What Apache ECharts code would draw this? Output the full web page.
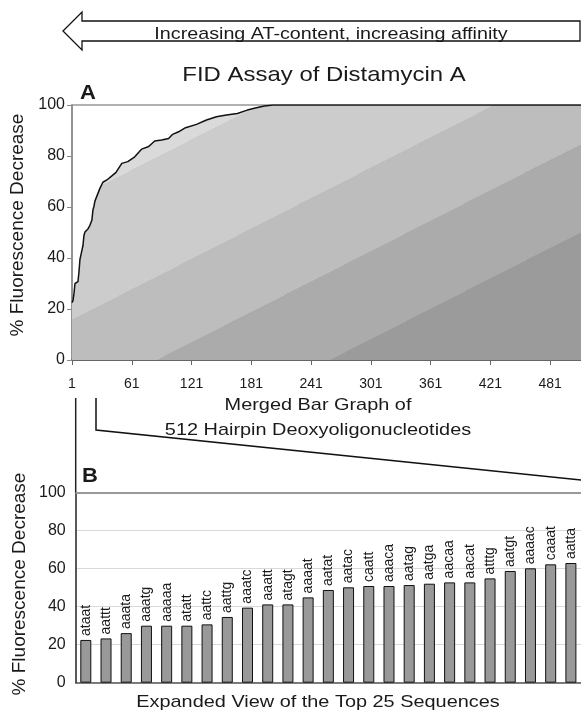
<!DOCTYPE html>
<html>
<head>
<meta charset="utf-8">
<script src="https://cdn.jsdelivr.net/npm/echarts@6/dist/echarts.min.js"></script>
<style>
  html, body { margin: 0; padding: 0; background: #fff; }
  #chart { width: 581px; height: 713px; }
</style>
</head>
<body>
<div id="chart"></div>
<script>
// top 25 sequences (panel B), same values start the merged curve in panel A
var top25Labels = ['ataat', 'aattt', 'aaata', 'aaatg', 'aaaaa', 'atatt', 'aattc', 'aattg', 'aaatc', 'aaatt',
    'atagt', 'aaaat', 'aatat', 'aatac', 'caatt', 'aaaca', 'aatag', 'aatga', 'aacaa', 'aacat',
    'atttg', 'aatgt', 'aaaac', 'caaat', 'aatta'];
var top25Values = [22.5, 23.3, 26.1, 30, 30, 30, 30.7, 34.6, 39.5, 41.2,
    41.2, 44.9, 48.8, 50.2, 50.9, 50.9, 51.4, 52.1, 52.8, 52.8,
    54.9, 58.8, 60.2, 62.3, 63.0];

// rest of the merged curve (rank -> % decrease)
var curveRank = [29, 32, 36, 41, 45, 51, 57, 64, 71, 78, 84, 91, 98, 102, 108, 115, 126, 136, 146, 156, 167, 177, 184, 194, 203, 512];
var curveValues = [67.3, 69.7, 70.6, 72.2, 73.5, 77.1, 77.8, 79.7, 82.7, 83.7, 85.9, 86.3, 86.9, 88.5, 89.5, 91.1, 92.4, 94.1, 95.4, 96.1, 96.7, 98.0, 98.7, 99.6, 100, 100];

var rankTicks = [1, 61, 121, 181, 241, 301, 361, 421, 481];

var curveData = [];
for (var i = 0; i < top25Values.length; i++) {
    curveData.push([i + 1, top25Values[i]]);
}
for (var j = 0; j < curveRank.length; j++) {
    curveData.push([curveRank[j], curveValues[j]]);
}

// diagonal bands of the background fill
function bands(stops, colors) {
    var list = [];
    var prev = 0;
    for (var k = 0; k < colors.length; k++) {
        var end = k < stops.length ? stops[k] : 1;
        list.push({offset: prev, color: colors[k]});
        list.push({offset: end, color: colors[k]});
        prev = end;
    }
    return list;
}
var bandFill = new echarts.graphic.LinearGradient(0, 0, 0.4085, 1.604,
    bands([0.185, 0.417, 0.579, 0.75], ['#dadada', '#cccccc', '#bdbdbd', '#ababab', '#9b9b9b']));

var textColor = '#1a1a1a';
var font = 'Liberation Sans, Arial, sans-serif';

// the scanned figure is a bit wider than tall, so flat texts get stretched
function label(x, y, text, cssFont, stretch, lineHeight) {
    var el = {
        type: 'text', x: x, y: y, scaleX: stretch,
        style: {text: text, font: cssFont + ' ' + font, fill: textColor, textAlign: 'center', textVerticalAlign: 'middle'}
    };
    if (lineHeight) {
        el.style.lineHeight = lineHeight;
    }
    return el;
}

var chart = echarts.init(document.getElementById('chart'));

var option = {
    animation: false,
    textStyle: {fontFamily: font},
    grid: [
        {left: 72, top: 105, right: -2, height: 255, show: true, borderColor: '#999', borderWidth: 1.5, backgroundColor: 'transparent'},
        {left: 75.7, top: 492.7, right: -6, height: 190}
    ],
    xAxis: [
        {
            gridIndex: 0,
            type: 'value',
            min: 1,
            max: 512,
            axisLine: {lineStyle: {color: '#666', width: 2}},
            axisTick: {show: true, customValues: rankTicks, length: 5, lineStyle: {color: '#666'}},
            axisLabel: {customValues: rankTicks, color: textColor, fontSize: 14, margin: 17},
            splitLine: {show: false}
        },
        {
            gridIndex: 1,
            type: 'category',
            data: top25Labels,
            axisLine: {lineStyle: {color: '#555', width: 1.5}},
            axisTick: {show: false},
            axisLabel: {show: false}
        }
    ],
    yAxis: [
        {
            gridIndex: 0,
            type: 'value',
            min: 0,
            max: 100,
            interval: 20,
            axisLine: {show: true, lineStyle: {color: '#888', width: 1.5}},
            axisTick: {show: true, length: 5, lineStyle: {color: '#888'}},
            axisLabel: {color: textColor, fontSize: 16, margin: 7},
            splitLine: {show: false}
        },
        {
            gridIndex: 1,
            type: 'value',
            min: 0,
            max: 100,
            interval: 20,
            axisLine: {show: true, lineStyle: {color: '#222', width: 1.5}},
            axisTick: {show: false},
            axisLabel: {color: textColor, fontSize: 16, margin: 10},
            splitLine: {show: true, lineStyle: {color: '#d9d9d9', width: 1}}
        }
    ],
    series: [
        {
            type: 'line',
            xAxisIndex: 0,
            yAxisIndex: 0,
            data: curveData,
            symbol: 'none',
            lineStyle: {color: '#111', width: 1.5},
            areaStyle: {color: bandFill, opacity: 1}
        },
        {
            type: 'bar',
            xAxisIndex: 1,
            yAxisIndex: 1,
            data: top25Values,
            barWidth: 11,
            itemStyle: {color: '#999999', borderColor: '#111', borderWidth: 1},
            label: {
                show: true,
                position: 'top',
                rotate: 90,
                align: 'left',
                verticalAlign: 'middle',
                distance: 4,
                fontSize: 14,
                color: textColor,
                formatter: function (p) { return p.name; }
            },
            markLine: {
                silent: true,
                symbol: 'none',
                label: {show: false},
                lineStyle: {color: '#999', width: 2, type: 'solid'},
                data: [{yAxis: 100}]
            }
        }
    ],
    graphic: [
        {
            type: 'polygon',
            shape: {points: [[63, 31], [82, 12], [82, 21], [580, 21], [580, 41], [82, 41], [82, 50]]},
            style: {fill: '#fff', stroke: '#111', lineWidth: 1.3}
        },
        label(331, 34, 'Increasing AT-content, increasing affinity', '17px', 1.16),
        label(324, 75, 'FID Assay of Distamycin A', '21px', 1.14),
        label(88, 93, 'A', 'bold 20px', 1.1),
        label(90, 476, 'B', 'bold 20px', 1.1),
        label(318, 418, 'Merged Bar Graph of\n512 Hairpin Deoxyoligonucleotides', '17px', 1.17, 25),
        label(318, 702, 'Expanded View of the Top 25 Sequences', '17px', 1.17),
        {
            type: 'text', x: 18, y: 225, rotation: Math.PI / 2,
            style: {text: '% Fluorescence Decrease', font: '19px ' + font, fill: textColor, textAlign: 'center', textVerticalAlign: 'middle'}
        },
        {
            type: 'text', x: 20, y: 584, rotation: Math.PI / 2,
            style: {text: '% Fluorescence Decrease', font: '19px ' + font, fill: textColor, textAlign: 'center', textVerticalAlign: 'middle'}
        },
        {
            type: 'polyline',
            shape: {points: [[96, 398], [96, 430], [582, 480]]},
            style: {stroke: '#111', lineWidth: 1.5, fill: null}
        },
        {
            type: 'line',
            shape: {x1: 75.7, y1: 398, x2: 75.7, y2: 493},
            style: {stroke: '#222', lineWidth: 1.5}
        }
    ]
};

chart.setOption(option);
</script>
</body>
</html>
